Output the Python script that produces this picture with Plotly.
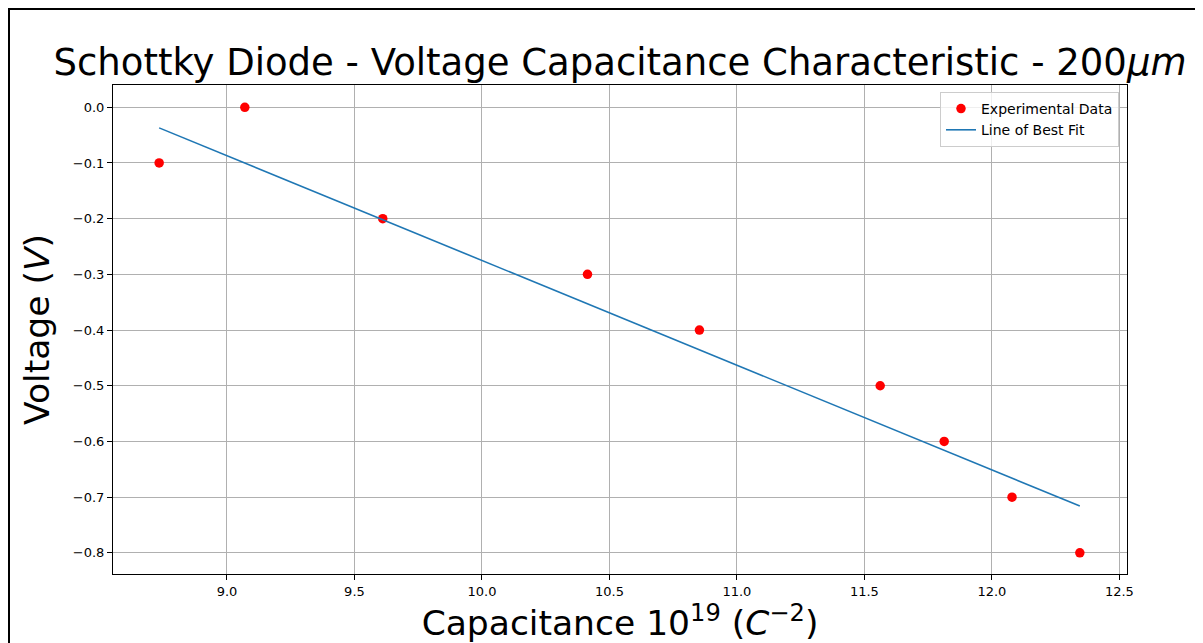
import plotly.graph_objects as go

# Data
cap_x = [8.734, 9.07, 9.611, 10.414, 10.853, 11.562, 11.813, 12.079, 12.345]
volt_y = [-0.1, 0.0, -0.2, -0.3, -0.4, -0.5, -0.6, -0.7, -0.8]
fit_x = [8.734, 12.345]
fit_y = [-0.037, -0.716]

x_ticks = [9.0, 9.5, 10.0, 10.5, 11.0, 11.5, 12.0, 12.5]
y_ticks = [0.0, -0.1, -0.2, -0.3, -0.4, -0.5, -0.6, -0.7, -0.8]

FONT = "DejaVu Sans"
OFF = 8  # page body margin
W, H = 1203 - OFF, 643 - OFF
# plot area in figure coordinates
L, R, T, B = 113 - OFF, 1127 - OFF, 85 - OFF, 574 - OFF
PW, PH = R - L, B - T

fig = go.Figure()
fig.add_trace(go.Scatter(
    x=cap_x, y=volt_y, mode="markers", name="Experimental Data",
    marker=dict(color="#ff0000", size=9.5),
))
fig.add_trace(go.Scatter(
    x=fit_x, y=fit_y, mode="lines", name="Line of Best Fit",
    line=dict(color="#1f77b4", width=1.6),
))

axis_common = dict(
    showgrid=True, gridcolor="#b0b0b0", gridwidth=1,
    showline=True, linecolor="#000000", linewidth=1, mirror=True,
    ticks="outside", ticklen=5, tickwidth=1, tickcolor="#000000",
    tickfont=dict(family=FONT, size=13, color="#000000"),
    zeroline=False, automargin=False,
)

fig.update_layout(
    width=W, height=H, autosize=False,
    margin=dict(l=L, r=W - R, t=T, b=H - B, pad=0, autoexpand=False),
    paper_bgcolor="white", plot_bgcolor="white",
    font=dict(family=FONT, color="#000000"),
    title=dict(
        text="Schottky Diode - Voltage Capacitance Characteristic - 200<i>μm</i>",
        font=dict(family=FONT, size=37, color="#000000"),
        x=0.5, xanchor="center", xref="paper",
        y=1 - (62 - OFF) / H, yanchor="middle", yref="container",
    ),
    xaxis=dict(
        range=[8.553, 12.53], tickvals=x_ticks,
        ticktext=[f"{v:.1f}" for v in x_ticks],
        title=dict(text="Capacitance 10<sup>19</sup> (<i>C</i><sup>−2</sup>)",
                   font=dict(family=FONT, size=34.5, color="#000000"), standoff=12),
        **axis_common,
    ),
    yaxis=dict(
        range=[-0.838, 0.04], tickvals=y_ticks,
        ticktext=[f"{v:.1f}".replace("-", "−") for v in y_ticks],
        title=dict(text="Voltage (<i>V</i>)",
                   font=dict(family=FONT, size=34.5, color="#000000"), standoff=12),
        **axis_common,
    ),
    legend=dict(
        x=(1119 - OFF - L) / PW, xanchor="right",
        y=1 - (92 - OFF - T) / PH, yanchor="top",
        bgcolor="rgba(255,255,255,0.8)", bordercolor="#cccccc", borderwidth=1,
        font=dict(family=FONT, size=14, color="#000000"),
        tracegroupgap=0, itemwidth=30,
    ),
    showlegend=True,
)

# outer frame around the figure (left and top edges visible, others run off the page)
fig.add_shape(
    type="rect", xref="paper", yref="paper",
    x0=(1 - L) / PW, x1=(W + 20 - L) / PW,
    y0=1 - (H + 20 - T) / PH, y1=1 + (T - 1) / PH,
    line=dict(color="#000000", width=2), fillcolor="rgba(0,0,0,0)", layer="above",
)

fig.write_html("out.html")
